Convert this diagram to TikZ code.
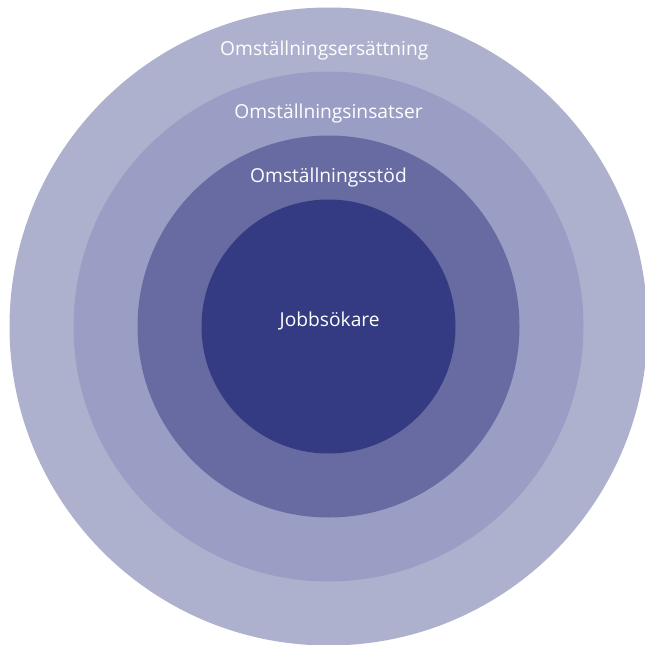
\documentclass[tikz,border=0pt]{standalone}
\usepackage{fontspec}
\setmainfont{Open Sans}
\definecolor{ringA}{HTML}{AEB1CE}
\definecolor{ringB}{HTML}{9B9EC4}
\definecolor{ringC}{HTML}{676BA2}
\definecolor{ringD}{HTML}{343B82}
\tikzset{
  ringlabel/.style={text=white, anchor=base, inner sep=0pt, font=\fontsize{19.2}{22}\selectfont}
}
\begin{document}
\begin{tikzpicture}[x=1pt, y=-1pt]
	\useasboundingbox (0,0) rectangle (645,645);
	\fill [ringA] (328.5,326.5) circle (319);
	\fill [ringB] (328.5,326.5) circle (255);
	\fill [ringC] (328.5,326.5) circle (191);
	\fill [ringD] (328.5,326.5) circle (127);
	\node[ringlabel] (ersattning) at (324.3,55.5) {Omställningsersättning};
	\node[ringlabel] (insatser) at (328.5,118.5) {Omställningsinsatser};
	\node[ringlabel] (stod) at (328.5,182) {Omställningsstöd};
	\node[ringlabel] (jobb) at (329.7,326) {Jobbsökare};
\end{tikzpicture}
\end{document}
